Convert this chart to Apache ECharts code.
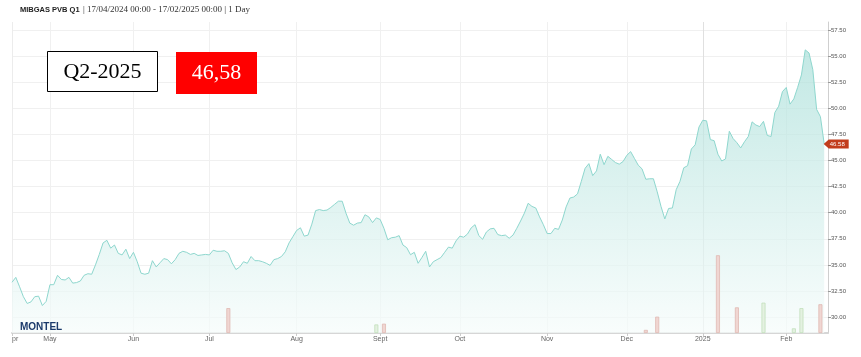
<!DOCTYPE html>
<html><head><meta charset="utf-8">
<script src="https://cdn.jsdelivr.net/npm/echarts@6/dist/echarts.min.js"></script>
<style>html,body{margin:0;padding:0;background:#fff}#c{width:861px;height:357px}</style>
</head><body><div id="c"></div>
<script>
// ---- data ----
const titleName = 'MIBGAS PVB Q1';
const titleRange = '17/04/2024 00:00 - 17/02/2025 00:00';
const titleFreq = '1 Day';
const boxContract = 'Q2-2025';
const boxPrice = '46,58';
const startDate = '2024-04-17';
const endDate = '2025-02-17';
const holidays = ['2024-05-01', '2024-12-25', '2024-12-26', '2025-01-01'];
const monthTickLabels = ['May', 'Jun', 'Jul', 'Aug', 'Sept', 'Oct', 'Nov', 'Dec', '2025', 'Feb'];
const yTickValues = [30, 32.5, 35, 37.5, 40, 42.5, 45, 47.5, 50, 52.5, 55, 57.5];
const prices = [
  33.33, 33.8, 32.9, 31.95, 31.3, 31.45, 31.95, 32.0, 31.1, 31.5,
  33.1, 33.1, 34.0, 33.6, 33.55, 33.8, 33.25, 33.3, 33.45, 34.0,
  34.15, 34.1, 35.0, 36.0, 37.1, 37.35, 36.6, 36.9, 36.1, 35.95,
  36.5, 35.6, 36.2, 35.3, 34.2, 34.1, 34.2, 35.4, 34.8, 35.2,
  35.6, 35.5, 35.1, 35.5, 36.1, 36.3, 36.2, 36.0, 36.1, 35.9,
  35.95, 36.0, 35.95, 36.4, 36.3, 36.3, 36.35, 36.1, 35.2, 34.55,
  34.8, 35.3, 35.15, 35.8, 35.4, 35.4, 35.3, 35.15, 34.95, 35.5,
  35.6, 35.8, 36.25, 37.1, 37.7, 38.3, 38.55, 37.75, 37.85, 38.9,
  40.2, 40.3, 40.2, 40.25, 40.5, 40.8, 41.1, 41.1, 39.95, 39.0,
  38.8, 39.0, 39.05, 39.8, 39.6, 39.05, 39.5, 39.35, 38.5, 37.4,
  37.6, 37.65, 37.8, 36.9, 36.65, 35.97, 36.2, 35.15, 35.7, 36.3,
  34.8, 35.3, 35.5, 35.7, 36.2, 36.7, 36.6, 37.3, 37.75, 37.65,
  37.95, 38.55, 38.85, 37.8, 37.45, 38.15, 38.45, 38.5, 37.9, 37.8,
  37.85, 37.55, 37.85, 38.5, 39.2, 39.95, 40.9, 40.6, 40.45, 39.6,
  38.85, 38.0, 38.0, 38.5, 38.4, 39.3, 40.55, 41.4, 41.5, 41.8,
  43.0, 44.25, 44.7, 43.55, 44.0, 45.6, 44.6, 45.4, 45.1, 44.8,
  44.65, 44.9, 45.5, 45.85, 45.2, 44.55, 44.2, 43.2, 43.25, 43.25,
  42.0, 40.6, 39.4, 40.4, 40.45, 42.2, 43.0, 44.3, 44.5, 46.1,
  46.5, 48.2, 48.85, 48.8, 47.0, 46.9, 45.6, 44.95, 45.15, 47.8,
  47.1, 46.7, 46.2, 46.8, 47.3, 48.7, 48.4, 48.25, 48.75, 47.4,
  47.3, 49.6, 50.2, 51.6, 52.0, 50.4, 50.9, 52.0, 53.2, 55.6,
  55.3, 53.7, 49.9, 49.2, 46.58
];
const pinkVolDates = ['2024-07-08', '2024-09-03', '2024-12-09', '2024-12-12', '2025-01-08', '2025-01-15', '2025-02-14'];
const pinkVolValues = [32, 12, 4, 21, 100, 33, 37];
const greenVolDates = ['2024-08-30', '2025-01-24', '2025-02-05', '2025-02-07'];
const greenVolValues = [11, 39, 6, 32];

// ---- build categories (trading days) ----
function fmt(d) { return d.toISOString().slice(0, 10); }
const dates = [];
for (let d = new Date(startDate + 'T00:00:00Z'); d <= new Date(endDate + 'T00:00:00Z'); d.setUTCDate(d.getUTCDate() + 1)) {
  const wd = d.getUTCDay(), s = fmt(d);
  if (wd === 0 || wd === 6 || holidays.includes(s)) continue;
  dates.push(s);
}
const categories = dates.concat(['']);
const labelAt = {};
let mi = 0;
for (let i = 1; i < dates.length; i++) {
  if (dates[i].slice(5, 7) !== dates[i - 1].slice(5, 7)) labelAt[i] = monthTickLabels[mi++];
}
const isTick = i => i === 0 || labelAt[i] !== undefined;
const splitColors = ['#ececec'].concat(monthTickLabels.map(l => l === '2025' ? '#e0e0e0' : '#f0f0f0'));
const pinkData = dates.map(d => { const k = pinkVolDates.indexOf(d); return k >= 0 ? pinkVolValues[k] : null; });
const greenData = dates.map(d => { const k = greenVolDates.indexOf(d); return k >= 0 ? greenVolValues[k] : null; });
const lastIdx = prices.length - 1;

const chart = echarts.init(document.getElementById('c'), null, { renderer: 'canvas' });
chart.setOption({
  animation: false,
  backgroundColor: '#fff',
  grid: { left: 12, right: 33, top: 22, bottom: 24 },
  xAxis: {
    type: 'category', data: categories, boundaryGap: false,
    axisLine: { lineStyle: { color: '#d6d6d6', width: 2 } },
    axisTick: { show: true, interval: isTick, length: 3, lineStyle: { color: '#cccccc' } },
    axisLabel: {
      interval: (i) => labelAt[i] !== undefined,
      formatter: (v, i) => labelAt[i] || '',
      fontSize: 7, color: '#666', margin: 3, fontFamily: 'Liberation Sans'
    },
    splitLine: { show: true, interval: isTick, lineStyle: { color: splitColors, width: 1 } }
  },
  yAxis: [{
    type: 'value', position: 'right', min: 28.47, max: 58.27,
    axisLine: { show: true, lineStyle: { color: '#cfcfcf' } },
    axisTick: { show: true, customValues: yTickValues, length: 3, lineStyle: { color: '#999' } },
    axisLabel: { customValues: yTickValues, formatter: v => v.toFixed(2), fontSize: 6, color: '#555', margin: 3, fontFamily: 'Liberation Sans' },
    splitLine: { show: true, lineStyle: { color: '#f0f0f0' } }
  }, {
    type: 'value', min: 0, max: 400, show: false, splitLine: { show: false }
  }],
  series: [{
    type: 'line', data: prices, symbol: 'none', z: 2,
    lineStyle: { color: '#8ed7ce', width: 1 },
    areaStyle: {
      origin: 'start',
      color: new echarts.graphic.LinearGradient(0, 0, 0, 1, [
        { offset: 0, color: '#a9dfd9' }, { offset: 1, color: '#f6fcfb' }
      ])
    },
    markPoint: {
      silent: true,
      symbol: 'path://M0,5 L5,0 L25,0 L25,10 L5,10 Z',
      symbolSize: [25, 9], symbolKeepAspect: false, symbolOffset: [12, 0],
      itemStyle: { color: '#c23d1d' },
      label: { show: true, position: 'inside', color: '#fff', fontSize: 6, fontFamily: 'Liberation Sans', offset: [1, 0],
        formatter: p => p.value.toFixed(2) },
      data: [{ coord: [dates[lastIdx], prices[lastIdx]], value: prices[lastIdx] }]
    }
  }, {
    type: 'bar', yAxisIndex: 1, data: pinkData, barWidth: 4, barGap: '-100%', z: 3,
    itemStyle: { color: '#f0d6d2', borderColor: '#e0b9b3', borderWidth: 0.8 }
  }, {
    type: 'bar', yAxisIndex: 1, data: greenData, barWidth: 4, barGap: '-100%', z: 3,
    itemStyle: { color: '#e4f1e1', borderColor: '#c2dfbb', borderWidth: 0.8 }
  }],
  graphic: [
    { type: 'text', x: 20, y: 4, z: 10, style: {
      text: '{b|' + titleName + '} {s|| ' + titleRange + ' | ' + titleFreq + '}',
      rich: {
        b: { fontFamily: 'Liberation Sans', fontWeight: 'bold', fontSize: 7.5, fill: '#222' },
        s: { fontFamily: 'Liberation Serif', fontSize: 9, fill: '#333' }
      }
    } },
    { type: 'rect', z: 10, shape: { x: 47.5, y: 51.5, width: 110, height: 40 }, style: { fill: '#fff', stroke: '#000', lineWidth: 1 } },
    { type: 'text', z: 11, x: 102.5, y: 72, style: { text: boxContract, fontFamily: 'Liberation Serif', fontSize: 22, fill: '#000', align: 'center', verticalAlign: 'middle' } },
    { type: 'rect', z: 10, shape: { x: 176, y: 52, width: 81, height: 42 }, style: { fill: '#ff0000' } },
    { type: 'text', z: 11, x: 216.5, y: 73, style: { text: boxPrice, fontFamily: 'Liberation Serif', fontSize: 22, fill: '#fff', align: 'center', verticalAlign: 'middle' } },
    { type: 'text', z: 11, x: 20, y: 327, style: { text: 'MONTEL', fontFamily: 'Liberation Sans', fontWeight: 'bold', fontSize: 10, fill: '#1b3a6b', verticalAlign: 'middle' } },
    { type: 'text', z: 11, x: 12, y: 339.5, style: { text: 'pr', fontFamily: 'Liberation Sans', fontSize: 7, fill: '#666', verticalAlign: 'middle' } }
  ]
});
</script>
</body></html>
